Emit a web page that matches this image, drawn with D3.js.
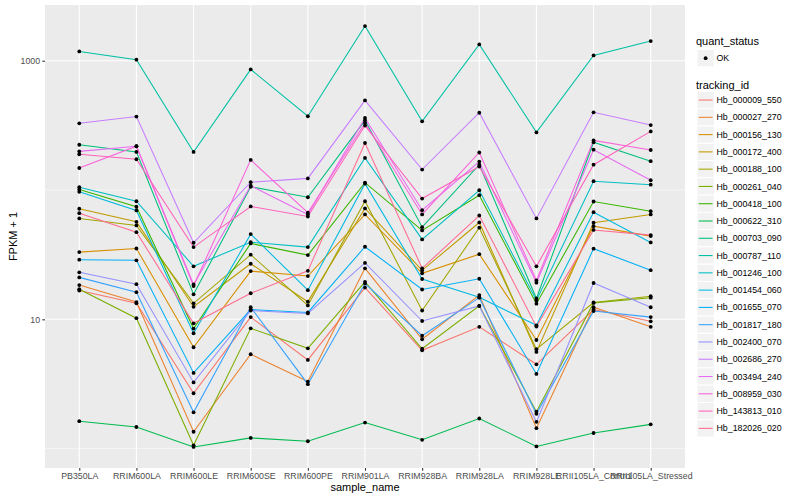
<!DOCTYPE html>
<html>
<head>
<meta charset="utf-8">
<script src="https://cdn.jsdelivr.net/npm/d3@7"></script>
<style>
    body { margin: 0; background: #fff; }
    text { font-family: 'Liberation Sans', Arial, sans-serif; }
</style>
</head>
<body>
<svg id="chart"></svg>
<script>
const samples = ['PB350LA', 'RRIM600LA', 'RRIM600LE', 'RRIM600SE', 'RRIM600PE', 'RRIM901LA',
    'RRIM928BA', 'RRIM928LA', 'RRIM928LE', 'RRII105LA_Control', 'RRII105LA_Stressed'];

const trackingIds = ['Hb_000009_550', 'Hb_000027_270', 'Hb_000156_130', 'Hb_000172_400', 'Hb_000188_100',
    'Hb_000261_040', 'Hb_000418_100', 'Hb_000622_310', 'Hb_000703_090', 'Hb_000787_110',
    'Hb_001246_100', 'Hb_001454_060', 'Hb_001655_070', 'Hb_001817_180', 'Hb_002400_070',
    'Hb_002686_270', 'Hb_003494_240', 'Hb_008959_030', 'Hb_143813_010', 'Hb_182026_020'];

// FPKM + 1, one value per sample
const hb_000009_550 = [16.7, 13.3, 2.68, 10.4, 4.85, 17.6, 5.76, 8.75, 4.49, 11.9, 9.65];
const hb_000027_270 = [18.4, 13.6, 1.35, 5.37, 3.30, 24.8, 7.01, 15.4, 1.44, 12.4, 8.75];
const hb_000156_130 = [33.1, 35.3, 6.08, 23.6, 21.6, 64.7, 22.7, 31.9, 6.92, 52.5, 44.0];
const hb_000172_400 = [71.6, 56.8, 12.5, 26.9, 13.7, 72.1, 23.9, 56.1, 5.59, 55.8, 64.7];
const hb_000188_100 = [60.3, 53.2, 13.3, 31.6, 12.8, 81.9, 11.7, 51.1, 5.87, 13.5, 15.1];
const hb_000261_040 = [17.1, 10.2, 1.06, 8.52, 5.97, 19.5, 5.92, 12.7, 1.93, 13.4, 14.7];
const hb_000418_100 = [101, 74.2, 8.48, 38.6, 31.4, 114, 48.7, 91.2, 13.2, 81.5, 68.6];
const hb_000622_310 = [1.63, 1.47, 1.03, 1.21, 1.14, 1.59, 1.17, 1.71, 1.04, 1.32, 1.54];
const hb_000703_090 = [224, 197, 15.6, 106, 87.9, 346, 51.6, 157, 14.5, 234, 167];
const hb_000787_110 = [1180, 1018, 197, 857, 372, 1854, 340, 1336, 279, 1099, 1419];
const hb_001246_100 = [105, 81.9, 25.7, 39.5, 36.2, 177, 41.5, 99.6, 14.0, 117, 110];
const hb_001454_060 = [96.8, 69.5, 7.80, 45.6, 16.8, 112, 20.5, 14.8, 8.99, 67.4, 39.3];
const hb_001655_070 = [28.9, 28.6, 3.85, 11.9, 11.3, 36.4, 17.0, 20.6, 3.78, 35.2, 24.0];
const hb_001817_180 = [21.1, 16.2, 1.91, 12.4, 3.15, 18.9, 7.46, 14.7, 1.86, 11.6, 10.4];
const hb_002400_070 = [23.1, 18.7, 3.25, 11.7, 11.1, 27.3, 9.70, 12.7, 1.61, 19.1, 12.4];
const hb_002686_270 = [328, 370, 39.1, 115, 123, 493, 144, 396, 60.3, 399, 318];
const hb_003494_240 = [199, 218, 18.6, 108, 64.7, 361, 69.8, 166, 19.2, 205, 119];
const hb_008959_030 = [148, 218, 18.1, 171, 66.7, 330, 64.7, 195, 20.0, 242, 204];
const hb_143813_010 = [189, 173, 36.2, 74.6, 62.4, 315, 85.9, 152, 25.7, 157, 284];
const hb_182026_020 = [66.2, 47.2, 9.31, 15.9, 23.7, 231, 24.8, 63.5, 8.78, 49.1, 44.8];

const seriesValues = [hb_000009_550, hb_000027_270, hb_000156_130, hb_000172_400, hb_000188_100,
    hb_000261_040, hb_000418_100, hb_000622_310, hb_000703_090, hb_000787_110,
    hb_001246_100, hb_001454_060, hb_001655_070, hb_001817_180, hb_002400_070,
    hb_002686_270, hb_003494_240, hb_008959_030, hb_143813_010, hb_182026_020];

const yTicks = [10, 1000];
const yMinorTicks = [1, 100];

const palette = ['#F8766D', '#EA8331', '#D89000', '#C09B00', '#A3A500', '#7CAE00', '#39B600', '#00BB4E',
    '#00BF7D', '#00C1A3', '#00BFC4', '#00BAE0', '#00B0F6', '#35A2FF', '#9590FF', '#C77CFF',
    '#E76BF3', '#FA62DB', '#FF62BC', '#FF6C91'];

const series = trackingIds.map((id, i) => ({
    id,
    color: palette[i],
    points: samples.map((s, j) => ({ sample: s, value: seriesValues[i][j] }))
}));

const panel = { left: 45, top: 5, right: 685, bottom: 468 };

const svg = d3.select('#chart')
    .attr('width', 800)
    .attr('height', 500)
    .style('display', 'block');

const xScale = d3.scalePoint()
    .domain(samples)
    .range([panel.left, panel.right])
    .padding(0.6);

const all = seriesValues.flat();
const lo = Math.log10(d3.min(all));
const hi = Math.log10(d3.max(all));
const pad = (hi - lo) * 0.05;
const yScale = d3.scaleLog()
    .domain([10 ** (lo - pad), 10 ** (hi + pad)])
    .range([panel.bottom, panel.top]);

// panel + grid
svg.append('rect')
    .attr('x', panel.left)
    .attr('y', panel.top)
    .attr('width', panel.right - panel.left)
    .attr('height', panel.bottom - panel.top)
    .attr('fill', '#EBEBEB');

svg.append('g')
    .selectAll('line')
    .data(yMinorTicks)
    .enter()
    .append('line')
    .attr('x1', panel.left)
    .attr('x2', panel.right)
    .attr('y1', d => yScale(d))
    .attr('y2', d => yScale(d))
    .attr('stroke', '#fff')
    .attr('stroke-width', 0.53);

svg.append('g')
    .selectAll('line')
    .data(yTicks)
    .enter()
    .append('line')
    .attr('x1', panel.left)
    .attr('x2', panel.right)
    .attr('y1', d => yScale(d))
    .attr('y2', d => yScale(d))
    .attr('stroke', '#fff')
    .attr('stroke-width', 1.07);

svg.append('g')
    .selectAll('line')
    .data(samples)
    .enter()
    .append('line')
    .attr('x1', d => xScale(d))
    .attr('x2', d => xScale(d))
    .attr('y1', panel.top)
    .attr('y2', panel.bottom)
    .attr('stroke', '#fff')
    .attr('stroke-width', 1.07);

// lines then points
const line = d3.line()
    .x(d => xScale(d.sample))
    .y(d => yScale(d.value));

svg.append('g')
    .selectAll('path')
    .data(series)
    .enter()
    .append('path')
    .attr('d', d => line(d.points))
    .attr('fill', 'none')
    .attr('stroke', d => d.color)
    .attr('stroke-width', 1.07);

svg.append('g')
    .selectAll('circle')
    .data(series.flatMap(d => d.points))
    .enter()
    .append('circle')
    .attr('cx', d => xScale(d.sample))
    .attr('cy', d => yScale(d.value))
    .attr('r', 1.9)
    .attr('fill', '#000');

// axes
const yAxis = d3.axisLeft(yScale)
    .tickValues(yTicks)
    .tickFormat(d3.format('d'))
    .tickSize(2.7)
    .tickPadding(2.2);
const xAxis = d3.axisBottom(xScale)
    .tickSize(2.7)
    .tickPadding(2.2);

const gy = svg.append('g')
    .attr('transform', `translate(${panel.left},0)`)
    .call(yAxis);
const gx = svg.append('g')
    .attr('transform', `translate(0,${panel.bottom})`)
    .call(xAxis);

[gx, gy].forEach(g => {
    g.select('.domain').remove();
    g.selectAll('.tick line').attr('stroke', '#333333').attr('stroke-width', 1.07);
    g.selectAll('.tick text')
        .attr('fill', '#4D4D4D')
        .style('font-size', '8.8px')
        .style('font-family', "'Liberation Sans', Arial, sans-serif");
});

svg.append('text')
    .attr('x', (panel.left + panel.right) / 2)
    .attr('y', 491)
    .attr('text-anchor', 'middle')
    .style('font-size', '11px')
    .text('sample_name');

svg.append('text')
    .attr('transform', `translate(17,${(panel.top + panel.bottom) / 2}) rotate(-90)`)
    .attr('text-anchor', 'middle')
    .style('font-size', '11px')
    .text('FPKM + 1');

// legends
const legX = 696;
const keySize = 17.28;

svg.append('text')
    .attr('x', legX)
    .attr('y', 45)
    .style('font-size', '11px')
    .text('quant_status');

svg.append('rect')
    .attr('x', legX + 1)
    .attr('y', 49.5)
    .attr('width', keySize)
    .attr('height', keySize)
    .attr('fill', '#F2F2F2')
    .attr('stroke', '#fff');
svg.append('circle')
    .attr('cx', legX + 1 + keySize / 2)
    .attr('cy', 49.5 + keySize / 2)
    .attr('r', 1.9)
    .attr('fill', '#000');
svg.append('text')
    .attr('x', 716.5)
    .attr('y', 49.5 + keySize / 2 + 3.1)
    .style('font-size', '8.8px')
    .text('OK');

svg.append('text')
    .attr('x', legX)
    .attr('y', 89)
    .style('font-size', '11px')
    .text('tracking_id');

const keys = svg.append('g')
    .selectAll('g')
    .data(series)
    .enter()
    .append('g')
    .attr('transform', (d, i) => `translate(${legX + 1},${91.4 + i * keySize})`);

keys.append('rect')
    .attr('width', keySize)
    .attr('height', keySize)
    .attr('fill', '#F2F2F2')
    .attr('stroke', '#fff');
keys.append('line')
    .attr('x1', 1.7)
    .attr('x2', keySize - 1.7)
    .attr('y1', keySize / 2)
    .attr('y2', keySize / 2)
    .attr('stroke', d => d.color)
    .attr('stroke-width', 1.07);
keys.append('text')
    .attr('x', 716.5 - legX - 1)
    .attr('y', keySize / 2 + 3.1)
    .style('font-size', '8.8px')
    .text(d => d.id);
</script>
</body>
</html>
